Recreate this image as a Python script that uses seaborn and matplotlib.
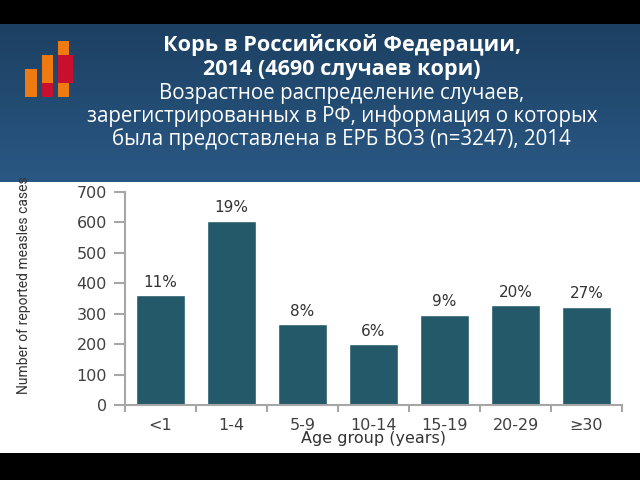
import numpy as np
import pandas as pd
import matplotlib
matplotlib.use("Agg")
import matplotlib.pyplot as plt
import matplotlib.patches as mpatches
import seaborn as sns

# ---- data ----
age_groups = ["<1", "1-4", "5-9", "10-14", "15-19", "20-29", "\u226530"]
cases = [360, 605, 265, 200, 297, 328, 323]
pct_labels = ["11%", "19%", "8%", "6%", "9%", "20%", "27%"]
y_ticks = [0, 100, 200, 300, 400, 500, 600, 700]

title_lines = [
    ("Корь в Российской Федерации,", "bold"),
    ("2014 (4690 случаев кори)", "bold"),
    ("Возрастное распределение случаев,", "normal"),
    ("зарегистрированных в РФ, информация о которых", "normal"),
    ("была предоставлена в ЕРБ ВОЗ (n=3247), 2014", "normal"),
]

sns.set_theme(style="white")
plt.rcParams["font.family"] = ["DejaVu Sans"]

fig = plt.figure(figsize=(6.4, 4.8), dpi=100, facecolor="white")

# black bands top / bottom
fig.patches.append(mpatches.Rectangle((0, 1 - 24 / 480), 1, 24 / 480, transform=fig.transFigure,
                                      facecolor="black", edgecolor="none", zorder=0))
fig.patches.append(mpatches.Rectangle((0, 0), 1, 27 / 480, transform=fig.transFigure,
                                      facecolor="black", edgecolor="none", zorder=0))

# header gradient
hax = fig.add_axes([0, 1 - 182 / 480, 1, (182 - 24) / 480])
top = np.array([0x1c, 0x40, 0x62]) / 255
bot = np.array([0x2a, 0x58, 0x84]) / 255
t = np.linspace(0, 1, 200)[:, None, None]
grad = top * (1 - t) + bot * t
grad = np.repeat(grad, 2, axis=1)
hax.imshow(grad, aspect="auto", extent=[0, 1, 0, 1])
hax.set_axis_off()

# logo
def px_rect(x0, y0, x1, y1, color):
    fig.patches.append(mpatches.Rectangle((x0 / 640, 1 - y1 / 480), (x1 - x0) / 640, (y1 - y0) / 480,
                                          transform=fig.transFigure, facecolor=color,
                                          edgecolor="none", zorder=5))

orange = "#f07a12"
crimson = "#c8102e"
px_rect(25, 69, 37, 97, orange)
px_rect(42, 55, 53, 83, orange)
px_rect(42, 83, 53, 97, crimson)
px_rect(58, 41, 69, 55, orange)
px_rect(58, 55, 73, 83, crimson)
px_rect(58, 83, 69, 97, orange)

# title text
ys = [45, 70, 93, 116, 139]
for (txt, w), yy in zip(title_lines, ys):
    fig.text(0.534, 1 - yy / 480, txt, ha="center", va="center", color="white",
             fontsize=15.6 if w == "bold" else 14.8, fontweight=w,
             family=["Open Sans", "DejaVu Sans"])

# chart
ax = fig.add_axes([125 / 640, 75 / 480, 497 / 640, 213 / 480])
df = pd.DataFrame({"age": age_groups, "cases": cases})
sns.barplot(data=df, x="age", y="cases", color="#24596a", saturation=1, width=0.69, ax=ax)
ax.bar_label(ax.containers[0], labels=pct_labels, padding=4, fontsize=11, color="#333333")

ax.set_xlim(-0.5, len(age_groups) - 0.5)
ax.set_ylim(0, 700)
ax.set_yticks(y_ticks)
ax.set_yticklabels([str(v) for v in y_ticks])
for s in ["top", "right"]:
    ax.spines[s].set_visible(False)
for s in ["left", "bottom"]:
    ax.spines[s].set_color("#a6a6a6")
    ax.spines[s].set_linewidth(1.5)
ax.tick_params(axis="y", which="major", left=True, length=8, width=1.5, color="#a6a6a6",
               pad=5, labelsize=11.5, labelcolor="#404040")
ax.tick_params(axis="x", which="major", bottom=False, pad=3, labelsize=11.5, labelcolor="#404040")
ax.set_xticks(np.arange(-0.5, len(age_groups), 1), minor=True)
ax.tick_params(axis="x", which="minor", bottom=True, length=5, width=1.5, color="#a6a6a6")

ax.set_xlabel("Age group (years)", fontsize=11.5, color="#333333", labelpad=-1)
ax.set_ylabel("Number of reported measles cases", fontsize=10, color="#333333",
              family=["Roboto", "DejaVu Sans"])
ax.yaxis.set_label_coords(-0.19, 0.563)
ax.grid(False)

fig.savefig("out.png", dpi=100, facecolor="white")
